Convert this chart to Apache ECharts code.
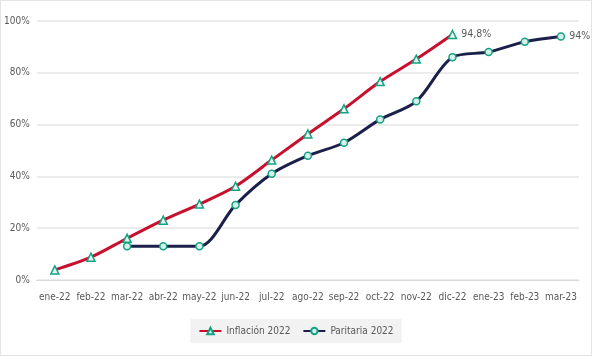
<!DOCTYPE html>
<html><head><meta charset="utf-8">
<script src="https://cdn.jsdelivr.net/npm/echarts@6/dist/echarts.min.js"></script>
<style>html,body{margin:0;padding:0;background:#fff}#c{width:592px;height:356px;box-sizing:border-box;border:1px solid #e4e4e4}</style>
</head><body><div id="c"></div>
<script>
const categories = ['ene-22','feb-22','mar-22','abr-22','may-22','jun-22','jul-22','ago-22','sep-22','oct-22','nov-22','dic-22','ene-23','feb-23','mar-23'];
const inflacion = [3.9, 8.8, 16.1, 23.1, 29.3, 36.2, 46.3, 56.4, 66.1, 76.6, 85.3, 94.8, null, null, null];
const paritaria = [null, null, 13, 13, 13, 29, 41, 48, 53, 62, 69, 86, 88, 92, 94];
const inflacionLabel = '94,8%';
const paritariaLabel = '94%';
const font = '"DejaVu Sans Condensed","Liberation Sans Narrow",sans-serif';
const chart = echarts.init(document.getElementById('c'));
function lastLabel(arr, text){
  let last = -1; arr.forEach((v,i)=>{ if(v!=null) last=i; });
  return arr.map((v,i)=> i===last ? {value:v, label:{show:true, position:'right', formatter:text, color:'#595959', fontSize:10.5, fontFamily:font, distance:4}} : v);
}
chart.setOption({
  animation:false,
  grid:{left:35, right:12, top:20, bottom:75},
  legend:{bottom:12, left:'center', backgroundColor:'#f2f2f2', padding:[7,8], itemGap:12, itemWidth:22, itemHeight:8,
    textStyle:{color:'#595959', fontSize:10, fontFamily:font},
    data:['Inflación 2022','Paritaria 2022']},
  xAxis:{type:'category', data:categories, boundaryGap:true,
    axisLine:{lineStyle:{color:'#d9d9d9'}}, axisTick:{show:false},
    axisLabel:{color:'#595959', fontSize:10, fontFamily:font, interval:0, margin:12}},
  yAxis:{type:'value', min:0, max:100, interval:20,
    axisLabel:{formatter:'{value}%', color:'#595959', fontSize:10, fontFamily:font, margin:7},
    splitLine:{lineStyle:{color:'#e6e6e6', width:1.5}}, axisLine:{show:false}, axisTick:{show:false}},
  series:[
    {name:'Inflación 2022', type:'line', smooth:0.3, data:lastLabel(inflacion, inflacionLabel),
      lineStyle:{color:'#c8102e', width:3}, itemStyle:{color:'#e8f5f0', borderColor:'#13a383', borderWidth:1.5},
      symbol:'triangle', symbolSize:8, z:3},
    {name:'Paritaria 2022', type:'line', smooth:0.3, data:lastLabel(paritaria, paritariaLabel),
      lineStyle:{color:'#1c1f4a', width:3}, itemStyle:{color:'#d9efe9', borderColor:'#13a383', borderWidth:1.5},
      symbol:'circle', symbolSize:7, z:2}
  ]
});
</script></body></html>
